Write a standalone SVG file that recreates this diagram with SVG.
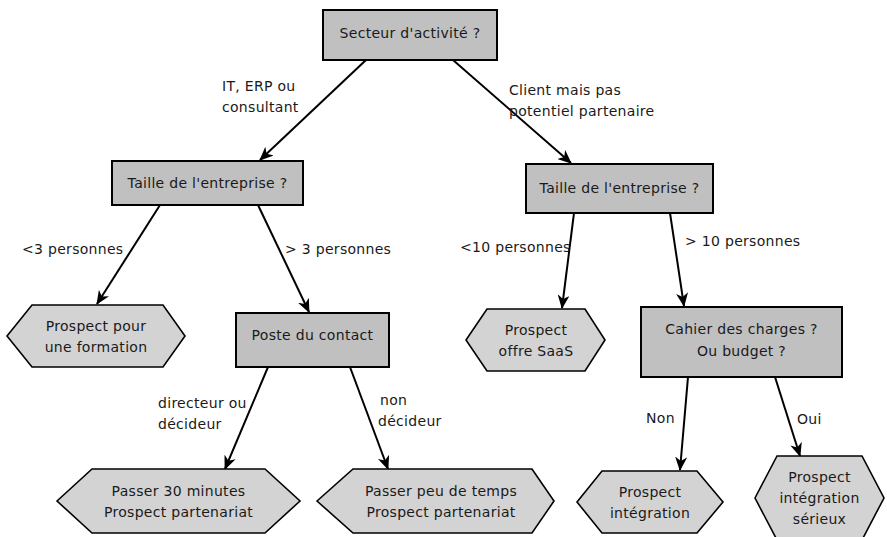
<svg xmlns="http://www.w3.org/2000/svg" width="887" height="537" viewBox="0 0 887 537">
<style>
text{font-family:"DejaVu Sans",sans-serif;font-size:14px;letter-spacing:0.3px;fill:#1a1a1a}
.c{text-anchor:middle}
.box{fill:#c0c0c0;stroke:#000;stroke-width:2}
.hex{fill:#d3d3d3;stroke:#000;stroke-width:1.6}
.edge{stroke:#000;stroke-width:2;fill:none;marker-end:url(#ah)}
</style>
<defs>
<marker id="ah" viewBox="0 0 14 12" refX="13" refY="6" markerWidth="14" markerHeight="12" markerUnits="userSpaceOnUse" orient="auto">
<path d="M0,0 L14,6 L0,12 L4,6 z" fill="#000"/>
</marker>
</defs>
<rect width="887" height="537" fill="#fff"/>
<g id="connectors">
<line class="edge" x1="366" y1="60" x2="260" y2="160"/>
<line class="edge" x1="453" y1="60" x2="571" y2="163"/>
<line class="edge" x1="160" y1="205" x2="97" y2="304"/>
<line class="edge" x1="258" y1="205" x2="309" y2="312"/>
<line class="edge" x1="574" y1="213" x2="562" y2="308"/>
<line class="edge" x1="670" y1="213" x2="684" y2="306"/>
<line class="edge" x1="268" y1="367" x2="225" y2="469"/>
<line class="edge" x1="350" y1="367" x2="388" y2="469"/>
<line class="edge" x1="688" y1="377" x2="680" y2="470"/>
<line class="edge" x1="775" y1="377" x2="800" y2="456"/>
<text x="222" y="91">IT, ERP ou</text>
<text x="222" y="112">consultant</text>
<text x="509" y="95">Client mais pas</text>
<text x="509" y="116">potentiel partenaire</text>
<text x="22" y="254">&lt;3 personnes</text>
<text x="285" y="254">&gt; 3 personnes</text>
<text x="460" y="252">&lt;10 personnes</text>
<text x="685" y="246">&gt; 10 personnes</text>
<text x="158" y="408">directeur ou</text>
<text x="158" y="429">décideur</text>
<text x="380" y="405">non</text>
<text x="378" y="426">décideur</text>
<text x="646" y="423">Non</text>
<text x="797" y="424">Oui</text>
</g>
<g id="n-secteur">
<rect class="box" x="323" y="10" width="174" height="50"/>
<text class="c" x="410" y="38">Secteur d'activité ?</text>
</g>
<g id="n-taille1">
<rect class="box" x="112" y="161" width="191" height="44"/>
<text class="c" x="207.5" y="188">Taille de l'entreprise ?</text>
</g>
<g id="n-taille2">
<rect class="box" x="526" y="164" width="187" height="49"/>
<text class="c" x="619.5" y="193">Taille de l'entreprise ?</text>
</g>
<g id="n-formation">
<polygon class="hex" points="7,336 32,305 163,305 185,336 163,367 32,367"/>
<text class="c" x="96" y="331">Prospect pour</text>
<text class="c" x="96" y="352">une formation</text>
</g>
<g id="n-poste">
<rect class="box" x="236" y="313" width="153" height="54"/>
<text class="c" x="312.5" y="340">Poste du contact</text>
</g>
<g id="n-saas">
<polygon class="hex" points="466,340 487,309 585,309 605,340 585,371 487,371"/>
<text class="c" x="536" y="335">Prospect</text>
<text class="c" x="536" y="356">offre SaaS</text>
</g>
<g id="n-cahier">
<rect class="box" x="641" y="307" width="201" height="70"/>
<text class="c" x="741.5" y="334">Cahier des charges ?</text>
<text class="c" x="741.5" y="356">Ou budget ?</text>
</g>
<g id="n-30min">
<polygon class="hex" points="57,501 92,469 265,469 300,501 265,533 92,533"/>
<text class="c" x="178.5" y="496">Passer 30 minutes</text>
<text class="c" x="178.5" y="517">Prospect partenariat</text>
</g>
<g id="n-peu">
<polygon class="hex" points="317,501 353,469 532,469 554,501 532,533 353,533"/>
<text class="c" x="441" y="496">Passer peu de temps</text>
<text class="c" x="441" y="517">Prospect partenariat</text>
</g>
<g id="n-integration">
<polygon class="hex" points="577,502 602,471 697,471 723,502 697,533 602,533"/>
<text class="c" x="650" y="497">Prospect</text>
<text class="c" x="650" y="518">intégration</text>
</g>
<g id="n-serieux">
<polygon class="hex" points="755,498 777,456 862,456 884,498 862,540 777,540"/>
<text class="c" x="819.5" y="482">Prospect</text>
<text class="c" x="819.5" y="503">intégration</text>
<text class="c" x="819.5" y="524">sérieux</text>
</g>
</svg>
